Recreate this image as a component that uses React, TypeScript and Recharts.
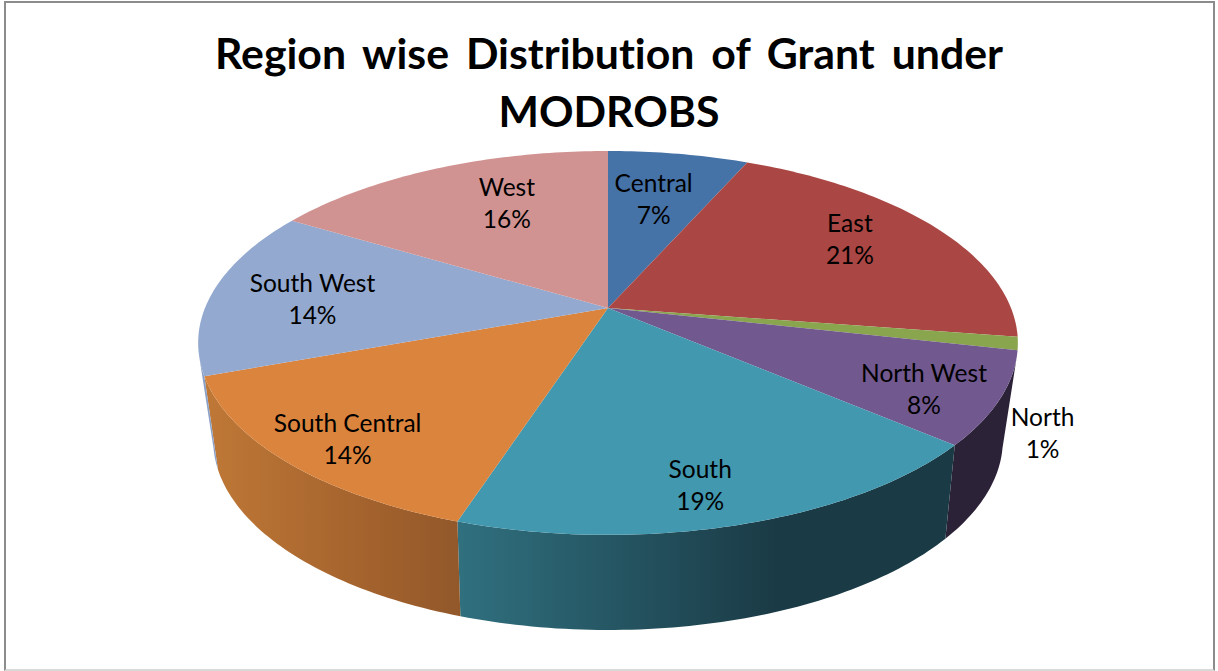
import React from 'react';
import { PieChart, Pie, Cell } from 'recharts';

const regions = ['Central', 'East', 'North', 'North West', 'South', 'South Central', 'South West', 'West'];
const shares = [6.6, 20.8, 1.1, 7.8, 18.7, 14.4, 14.2, 16.4];
const topColors = ['#4572a7', '#aa4643', '#89a54e', '#71588f', '#4198af', '#db843d', '#93a9cf', '#d19392'];
const wallFrom = ['#2a4565', '#662a28', '#52632e', '#2c2238', '#30707f', '#bf7836', '#8ba0c6', '#7d5857'];
const wallMid = ['#2a4565', '#662a28', '#52632e', '#2c2238', '#1a3a45', '#a3622d', '#8ba0c6', '#7d5857'];
const wallTo = ['#2a4565', '#662a28', '#52632e', '#2c2238', '#1a3a45', '#92582a', '#8ba0c6', '#7d5857'];

const data = regions.map((name, i) => ({ name, value: shares[i] }));

const WIDTH = 1218;
const HEIGHT = 671;
const CX = 608;
const APEX_Y = 308;
const RADIUS = 403;

// the pie is tilted, so the circle goes through a perspective projection
const topFace = { a: 0.182, dy: 0, b: 0.4605, c: 1 };
const bottomFace = { a: 0.2, dy: 94, b: 0.4526, c: 0.96 };

// compass angle, clockwise from 12 o'clock
const project = (cx: number, cy: number, r: number, deg: number, face: typeof topFace, k = 1) => {
  const t = (deg * Math.PI) / 180;
  const u = k * Math.sin(t);
  const v = -k * Math.cos(t);
  const den = 1 - face.a * v;
  return {
    x: cx + (r * face.c * u) / den,
    y: cy + face.dy + (r * face.b * v) / den,
  };
};

const arcPoints = (cx: number, cy: number, r: number, from: number, to: number, face: typeof topFace) => {
  const pts = [];
  const steps = Math.max(2, Math.ceil(Math.abs(to - from)));
  for (let i = 0; i <= steps; i++) {
    pts.push(project(cx, cy, r, from + ((to - from) * i) / steps, face));
  }
  return pts;
};

const toPath = (pts: { x: number; y: number }[]) =>
  pts.map((p, i) => `${i === 0 ? 'M' : 'L'}${p.x.toFixed(2)},${p.y.toFixed(2)}`).join(' ') + ' Z';

const TopSlice = (props: any) => {
  const { cx, cy, outerRadius, startAngle, endAngle, fill } = props;
  const arc = arcPoints(cx, cy, outerRadius, 90 - startAngle, 90 - endAngle, topFace);
  return <path d={toPath([{ x: cx, y: cy }, ...arc])} fill={fill} />;
};

const WallSlice = (props: any) => {
  const { cx, cy, outerRadius, startAngle, endAngle, index } = props;
  // only the front of the side wall shows
  const from = Math.max(90 - startAngle, 104);
  const to = Math.min(90 - endAngle, 256);
  if (to <= from) return <g />;
  const upper = arcPoints(cx, cy, outerRadius, from, to, topFace);
  const lower = arcPoints(cx, cy, outerRadius, from, to, bottomFace).reverse();
  const id = `wall-${index}`;
  return (
    <g>
      <defs>
        <linearGradient id={id} x1="0" y1="0" x2="1" y2="0">
          <stop offset="0%" stopColor={wallFrom[index]} />
          <stop offset="65%" stopColor={wallMid[index]} />
          <stop offset="100%" stopColor={wallTo[index]} />
        </linearGradient>
      </defs>
      <path d={toPath([...upper, ...lower])} fill={`url(#${id})`} />
    </g>
  );
};

// how far out each label sits, and the small shift off that spot
const labelRadius = [0.7, 0.7, 1.07, 0.85, 0.8, 0.85, 0.7, 0.7];
const labelShift = [
  [-6, 3],
  [9, -11],
  [-5, 86],
  [-13, 4],
  [-9, 10],
  [7, 2],
  [-18, 2],
  [24, -4],
];

const SliceLabel = (props: any) => {
  const { cx, cy, outerRadius, midAngle, name, percent, index } = props;
  const p = project(cx, cy, outerRadius, 90 - midAngle, topFace, labelRadius[index]);
  const x = p.x + labelShift[index][0];
  const y = p.y + labelShift[index][1];
  return (
    <text x={x} y={y} textAnchor="middle" fontFamily="Lato, sans-serif" fontSize={24.5} fill="#000">
      <tspan x={x} dy={-6}>{name}</tspan>
      <tspan x={x} dy={32}>{`${Math.round(percent * 100)}%`}</tspan>
    </text>
  );
};

export default function App() {
  return (
    <div style={{ position: 'absolute', left: 0, top: 0, width: WIDTH, height: HEIGHT, background: '#fff', overflow: 'hidden' }}>
      <div
        style={{
          position: 'absolute',
          left: 4,
          top: 1,
          width: 1207,
          height: 666,
          borderStyle: 'solid',
          borderColor: '#8c8c8c',
          borderWidth: 2,
          borderBottomColor: '#d9d9d9',
        }}
      />
      <div
        style={{
          position: 'absolute',
          left: 0,
          top: 24,
          width: 1218,
          textAlign: 'center',
          fontFamily: 'Lato, sans-serif',
          fontWeight: 700,
          fontSize: 42.8,
          lineHeight: '58px',
          wordSpacing: 6.5,
          fontVariantLigatures: 'none',
          color: '#000',
        }}
      >
        Region wise Distribution of Grant under
        <br />
        MODROBS
      </div>
      <div style={{ position: 'absolute', left: 0, top: 0 }}>
        <PieChart width={WIDTH} height={HEIGHT} margin={{ top: 0, right: 0, bottom: 0, left: 0 }}>
          <Pie
            data={data}
            dataKey="value"
            nameKey="name"
            cx={CX}
            cy={APEX_Y}
            outerRadius={RADIUS}
            startAngle={90}
            endAngle={-270}
            stroke="none"
            isAnimationActive={false}
            shape={WallSlice}
          />
          <Pie
            data={data}
            dataKey="value"
            nameKey="name"
            cx={CX}
            cy={APEX_Y}
            outerRadius={RADIUS}
            startAngle={90}
            endAngle={-270}
            stroke="none"
            isAnimationActive={false}
            shape={TopSlice}
            label={SliceLabel}
            labelLine={false}
          >
            {regions.map((name, i) => (
              <Cell key={name} fill={topColors[i]} />
            ))}
          </Pie>
        </PieChart>
      </div>
    </div>
  );
}
